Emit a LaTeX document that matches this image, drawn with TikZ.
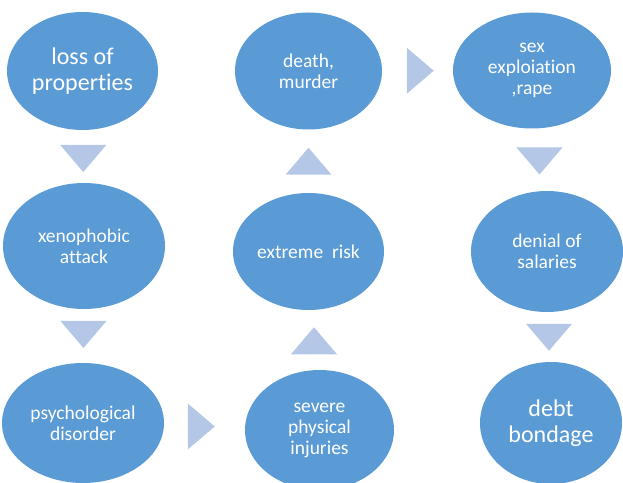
\documentclass[tikz,border=0pt]{standalone}
\usepackage{fontspec}
\setmainfont[Ligatures=NoCommon]{Carlito}
\usetikzlibrary{shapes.geometric}
\usetikzlibrary{calc}
\definecolor{bubble}{HTML}{5B9BD5}
\definecolor{pointer}{HTML}{B4C7E7}
\tikzset{x=1pt,y=1pt,
    bubble/.style={
        ellipse,
        fill=bubble,
        inner sep=0pt,
        text=white,
        align=center,
        font=\fontsize{19.5}{21}\selectfont},
    big/.style={
        font=\fontsize{24}{25.5}\selectfont},
    pointer/.style={
        fill=pointer}}
% triangle pointer half way between two bubbles, turned by #3
\newcommand{\pointto}[3]{%
    \fill[pointer,shift={($(#1)!.5!(#2)$)},rotate=#3]
        (13.5,0) -- (-13.5,23) -- (-13.5,-23) -- cycle;}

\begin{document}
\begin{tikzpicture}
        \useasboundingbox (0,0) rectangle (623,482);
        \clip (0,0) rectangle (623,482);

        \node[bubble,big,minimum width=151,minimum height=118] (loss) at (82.5,411) {loss of\\properties};
        \node[bubble,minimum width=162,minimum height=126] (xeno) at (84,236) {xenophobic\\attack};
        \node[bubble,minimum width=162,minimum height=120] (psych) at (83,59) {psychological\\disorder};
        \node[bubble,minimum width=149,minimum height=120] (injury) at (319.5,52) {severe\\physical\\injuries};
        \node[bubble,minimum width=151,minimum height=117] (risk) at (308.5,230.5) {extreme\ \ risk};
        \node[bubble,minimum width=147,minimum height=117] (death) at (308.5,411) {death,\\murder};
        \node[bubble,minimum width=158,minimum height=116] (sex) at (532,411.5) {sex\\exploiation\\,rape};
        \node[bubble,minimum width=152,minimum height=121] (salary) at (547,230.5) {denial of\\salaries};
        \node[bubble,big,minimum width=142,minimum height=122] (debt) at (551,59) {debt\\bondage};

        \pointto{loss}{xeno}{-90}
        \pointto{xeno}{psych}{-90}
        \pointto{psych}{injury}{0}
        \pointto{injury}{risk}{90}
        \pointto{risk}{death}{90}
        \pointto{death}{sex}{0}
        \pointto{sex}{salary}{-90}
        \pointto{salary}{debt}{-90}
    \end{tikzpicture}
\end{document}
